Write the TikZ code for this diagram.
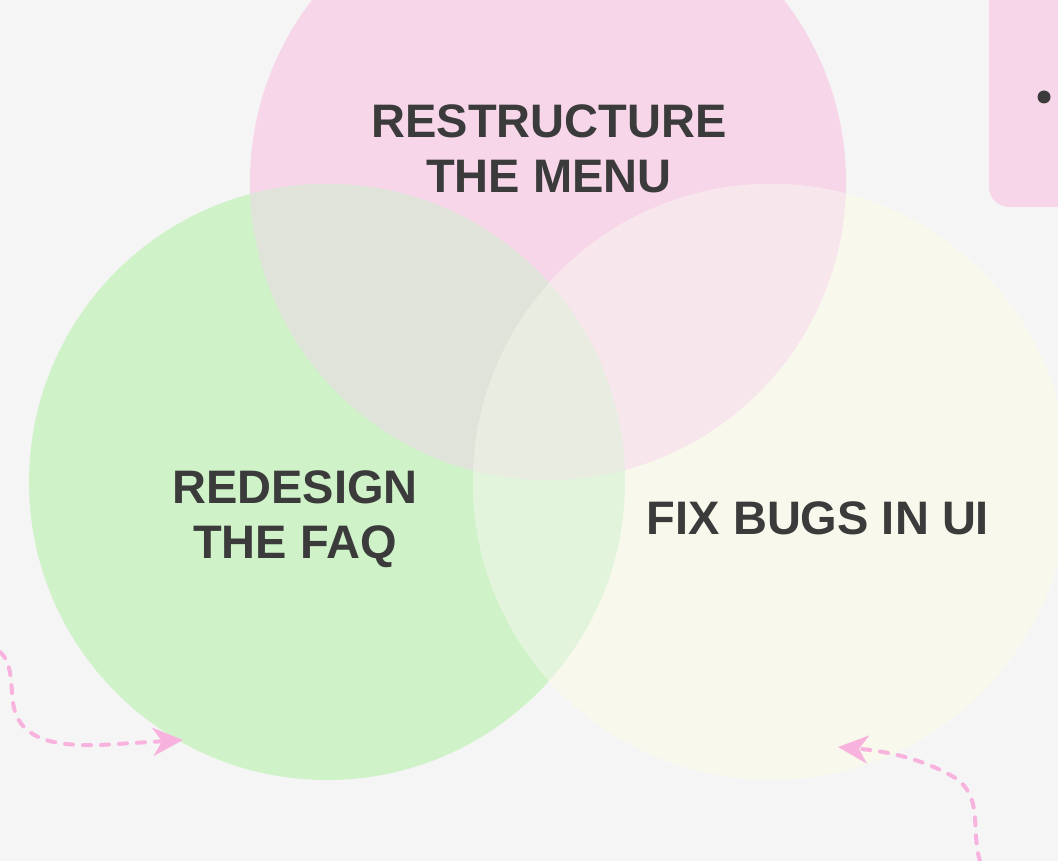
\documentclass[tikz,border=0pt]{standalone}
\usepackage{fontspec}
\setmainfont{Liberation Sans}
\usepackage{xcolor}
\usetikzlibrary{arrows.meta}

\definecolor{bgcol}{HTML}{F5F5F5}
\definecolor{pinkcol}{HTML}{F7D6E9}
\definecolor{greencol}{HTML}{CFF2C8}
\definecolor{creamcol}{HTML}{F8F8EC}
\definecolor{pgcol}{HTML}{E0E3DA}
\definecolor{pccol}{HTML}{F7E6EC}
\definecolor{gccol}{HTML}{E2F4DC}
\definecolor{pgccol}{HTML}{E9ECE1}
\definecolor{inkcol}{HTML}{3B3B3B}
\definecolor{arrowcol}{HTML}{F7B3DE}

\begin{document}
\begin{tikzpicture}[
    x=1pt, y=-1pt,
    label/.style={font=\bfseries\fontsize{47}{55}\selectfont, text=inkcol,
                  align=center, inner sep=0pt},
    pinkarrow/.style={draw=arrowcol, line width=4pt, line cap=round,
                      dash pattern=on 8pt off 10pt,
                      -{Stealth[length=30pt, width=28pt, inset=9pt, fill=arrowcol,
                        line cap=butt, sep=0pt]}},
]

% background and frame
\fill[bgcol] (0,0) rectangle (1058,861);
\useasboundingbox (0,0) rectangle (1058,861);

% circle centres
\def\rad{298}
\coordinate (menu) at (548,182);
\coordinate (faq)  at (327,482);
\coordinate (bugs) at (771,482);

% ---------------------------------------------------------------------
%  Venn circles
% ---------------------------------------------------------------------
\fill[pinkcol]  (menu) circle[radius=\rad];
\fill[greencol] (faq)  circle[radius=\rad];
\fill[creamcol] (bugs) circle[radius=\rad];

% overlaps
\begin{scope}
    \clip (menu) circle[radius=\rad];
    \fill[pgcol] (faq)  circle[radius=\rad];
    \fill[pccol] (bugs) circle[radius=\rad];
\end{scope}
\begin{scope}
    \clip (faq) circle[radius=\rad];
    \fill[gccol] (bugs) circle[radius=\rad];
\end{scope}
\begin{scope}
    \clip (menu) circle[radius=\rad];
    \clip (faq)  circle[radius=\rad];
    \fill[pgccol] (bugs) circle[radius=\rad];
\end{scope}

% labels
\node[label] (menutext) at (549,149) {RESTRUCTURE\\THE MENU};
\node[label] (faqtext)  at (295,519.5) {REDESIGN\\THE FAQ};
\node[label] (bugstext) at (818,518) {FIX BUGS IN UI};

% ---------------------------------------------------------------------
%  Side card (top right)
% ---------------------------------------------------------------------
\fill[pinkcol, rounded corners=20pt] (989,-30) rectangle (1090,207);
\fill[inkcol] (1044,97) circle[radius=6.5];

% ---------------------------------------------------------------------
%  Dashed arrows
% ---------------------------------------------------------------------
\coordinate (leftstart)  at (0,652);
\coordinate (lefttip)    at (183,740);
\coordinate (rightstart) at (980,861);
\coordinate (righttip)   at (838,747);

\draw[pinkarrow] (leftstart) .. controls (14,664) and (10,690) .. (14,708)
    .. controls (22,742) and (60,746) .. (100,745) -- (lefttip);
\draw[pinkarrow] (rightstart) .. controls (970,830) and (985,795) .. (952,776)
    .. controls (920,758) and (885,751) .. (righttip);

\end{tikzpicture}
\end{document}
